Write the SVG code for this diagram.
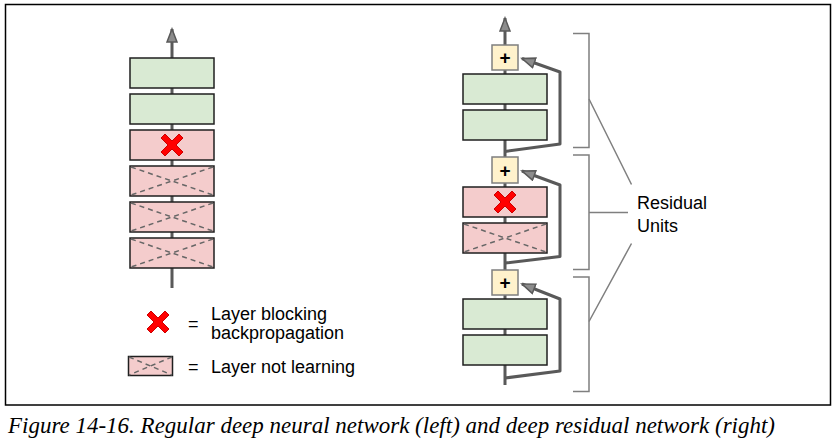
<svg xmlns="http://www.w3.org/2000/svg" width="835" height="442" viewBox="0 0 835 442">
<defs>
<style>
.green{fill:#d9ead3;stroke:#1f1f1f;stroke-width:1.5}
.pink{fill:#f4cccc;stroke:#1f1f1f;stroke-width:1.5}
.plus{fill:#fff2cc;stroke:#7f7f7f;stroke-width:1.5}
.dash{stroke:#666;stroke-width:1.5;stroke-dasharray:5 4;fill:none}
.wire{stroke:#595959;stroke-width:3;fill:none;stroke-linejoin:round}
.brk{stroke:#7f7f7f;stroke-width:1.5;fill:none}
.lbl{font-family:"Liberation Sans",Arial,sans-serif;font-size:18px;fill:#000}
.pl{font-family:"Liberation Sans",Arial,sans-serif;font-size:19px;font-weight:bold;fill:#000;text-anchor:middle}
.xmark{fill:#ff0000;stroke:#cc0000;stroke-width:1}
</style>
<marker id="ah" markerUnits="userSpaceOnUse" markerWidth="16" markerHeight="12" refX="14" refY="6" orient="auto">
<path d="M1,1 L14,6 L1,11 z" fill="#8c8c8c" stroke="#595959" stroke-width="1.5"/>
</marker>
<path id="xs" d="M-11,-7 L-7,-11 L0,-4 L7,-11 L11,-7 L4,0 L11,7 L7,11 L0,4 L-7,11 L-11,7 L-4,0 z"/>
</defs>
<rect x="5.5" y="4.5" width="825" height="400.5" fill="#fff" stroke="#000" stroke-width="1.5"/>

<g id="connectors">
<line class="wire" x1="172" y1="288" x2="172" y2="29" marker-end="url(#ah)"/>
<line class="wire" x1="505" y1="385" x2="505" y2="18" marker-end="url(#ah)"/>
<path class="wire" d="M505,151.5 L560,144 L560,72 L522,58.5" marker-end="url(#ah)"/>
<path class="wire" d="M505,263 L560,256.5 L560,185 L522,171" marker-end="url(#ah)"/>
<path class="wire" d="M505,378 L560,371 L560,299 L522,284" marker-end="url(#ah)"/>
</g>

<g id="left-layer-6"><rect class="green" x="130" y="58" width="84" height="30"/></g>
<g id="left-layer-5"><rect class="green" x="130" y="94" width="84" height="30"/></g>
<g id="left-layer-4"><rect class="pink" x="130" y="130" width="84" height="30"/><use href="#xs" class="xmark" transform="translate(172,145)"/></g>
<g id="left-layer-3"><rect class="pink" x="130" y="166" width="84" height="30"/><path class="dash" d="M131,167 L213,195 M213,167 L131,195"/></g>
<g id="left-layer-2"><rect class="pink" x="130" y="202" width="84" height="30"/><path class="dash" d="M131,203 L213,231 M213,203 L131,231"/></g>
<g id="left-layer-1"><rect class="pink" x="130" y="238" width="84" height="30"/><path class="dash" d="M131,239 L213,267 M213,239 L131,267"/></g>

<g id="right-plus-3"><rect class="plus" x="492" y="45" width="26" height="25"/><text class="pl" x="505" y="64">+</text></g>
<g id="right-layer-6"><rect class="green" x="463" y="74" width="84" height="30"/></g>
<g id="right-layer-5"><rect class="green" x="463" y="110" width="84" height="30"/></g>
<g id="right-plus-2"><rect class="plus" x="492" y="157" width="26" height="26"/><text class="pl" x="505" y="176.5">+</text></g>
<g id="right-layer-4"><rect class="pink" x="463" y="187" width="84" height="30"/><use href="#xs" class="xmark" transform="translate(505,202)"/></g>
<g id="right-layer-3"><rect class="pink" x="463" y="223" width="84" height="30"/><path class="dash" d="M464,224 L546,252 M546,224 L464,252"/></g>
<g id="right-plus-1"><rect class="plus" x="492" y="270" width="26" height="25"/><text class="pl" x="505" y="289">+</text></g>
<g id="right-layer-2"><rect class="green" x="463" y="299" width="84" height="30"/></g>
<g id="right-layer-1"><rect class="green" x="463" y="335" width="84" height="30"/></g>

<g id="residual-units">
<path class="brk" d="M573,33.5 H589 V147.5 H573"/>
<path class="brk" d="M573,155 H589 V269.5 H573"/>
<path class="brk" d="M573,277 H589 V391.5 H573"/>
<path class="brk" d="M589,99 L631.5,184.5 M589,212.5 L628,212.5 M589,321.5 L631.5,243.5"/>
<text class="lbl" x="637" y="209">Residual</text>
<text class="lbl" x="637" y="232">Units</text>
</g>

<g id="legend">
<use href="#xs" class="xmark" transform="translate(158,322)"/>
<text class="lbl" x="188" y="330">=</text>
<text class="lbl" x="211" y="320">Layer blocking</text>
<text class="lbl" x="211" y="339">backpropagation</text>
<rect class="pink" x="128.5" y="356.5" width="44" height="19"/>
<path class="dash" d="M129,357 L172,375 M172,357 L129,375"/>
<text class="lbl" x="188" y="373">=</text>
<text class="lbl" x="211" y="373">Layer not learning</text>
</g>

<text x="8" y="433" font-family="'Liberation Serif','Times New Roman',serif" font-style="italic" font-size="23" textLength="767" lengthAdjust="spacingAndGlyphs" fill="#000">Figure 14-16. Regular deep neural network (left) and deep residual network (right)</text>
</svg>
